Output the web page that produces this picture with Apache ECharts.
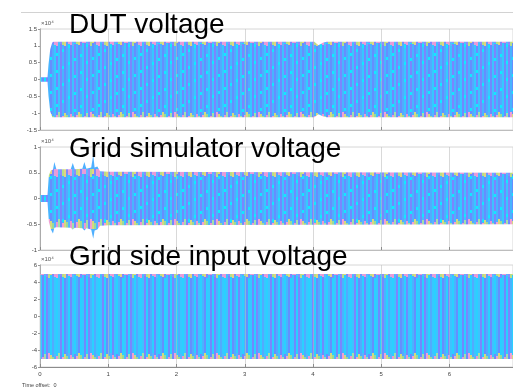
<!DOCTYPE html>
<html>
<head>
<meta charset="utf-8">
<script src="https://cdn.jsdelivr.net/npm/echarts@6/dist/echarts.min.js"></script>
<style>
  html, body { margin: 0; padding: 0; background: #ffffff; }
  #chart { width: 513px; height: 390px; }
</style>
</head>
<body>
<div id="chart"></div>
<script>
// Time axis (s) and tick labels
const timeTicks = [0, 1, 2, 3, 4, 5, 6];
const timeMax = 6.93;

// DUT voltage envelope (x10^4): knot times, upper and lower extremes
const dutTime  = [0,    0.11, 0.125, 0.15, 0.18,  0.2,   4.02,  4.08,  4.15, 4.2,   6.93];
const dutUpper = [0.07, 0.07, 0.45,  0.9,  1.1,   1.12,  1.12,  1.02,  1.1,  1.12,  1.12];
const dutLower = [-0.07,-0.07,-0.5,  -0.95,-1.12, -1.12, -1.12, -1.03, -1.1, -1.12, -1.12];
const dutTicks = [-1.5, -1, -0.5, 0, 0.5, 1, 1.5];

// Grid simulator voltage envelope (x10^4)
const simTime  = [0,    0.11, 0.13, 0.16, 0.19, 0.21, 0.24, 0.45, 0.48, 0.51, 0.62, 0.65, 0.68, 0.75, 0.78, 0.8,  0.84, 0.88, 1.0,  6.93];
const simUpper = [0.07, 0.07, 0.45, 0.55, 0.56, 0.71, 0.57, 0.57, 0.69, 0.57, 0.58, 0.71, 0.58, 0.6,  0.85, 0.6,  0.62, 0.53, 0.52, 0.5];
const simLower = [-0.07,-0.07,-0.45,-0.6, -0.68,-0.57,-0.56,-0.57,-0.6, -0.57,-0.58,-0.62,-0.58,-0.6, -0.78,-0.62,-0.6, -0.53,-0.52,-0.5];
const simTicks = [-1, -0.5, 0, 0.5, 1];

// Grid side input voltage envelope (x10^4)
const inTime  = [0,    6.93];
const inUpper = [4.95, 4.95];
const inLower = [-5.05, -5.05];
const inTicks = [-6, -4, -2, 0, 2, 4, 6];

const panels = [
  { title: 'DUT voltage',             time: dutTime, upper: dutUpper, lower: dutLower, ticks: dutTicks, top: 29,  height: 101, kind: 1 },
  { title: 'Grid simulator voltage',  time: simTime, upper: simUpper, lower: simLower, ticks: simTicks, top: 147, height: 103, kind: 2 },
  { title: 'Grid side input voltage', time: inTime,  upper: inUpper,  lower: inLower,  ticks: inTicks,  top: 265, height: 102, kind: 3 }
];

const FONT = 'Liberation Sans, Arial, sans-serif';
const chart = echarts.init(document.getElementById('chart'), null, { renderer: 'canvas' });

let bandFill = '#4fb0ff';

// Texture of the dense three-phase traces: thin vertical stripes, tinted crests
function buildTexture(bands) {
  const W = 42, H = 390;
  const cv = document.createElement('canvas');
  cv.width = W; cv.height = H;
  const ctx = cv.getContext('2d');
  ctx.fillStyle = '#4fb0ff';
  ctx.fillRect(0, 0, W, H);
  const base = ['#6f8aff', '#48b4ff', '#36c8ff', '#7a86ff', '#52aaff', '#3ec2ff', '#648fff'];
  const topTint = ['#ee98d6', '#7f88ff', '#b8de88', '#5cb8ff', '#e0a0dc', '#e2d480', '#8c8cff'];
  const botTint = ['#98dc98', '#ec96d2', '#6c8cff', '#d6d87e', '#56b4ff', '#a2e0a8', '#f0a0d4'];
  bands.forEach(b => {
    for (let x = 0; x < W; x++) {
      const s = Math.floor(x / 2);
      const cBase = base[(s * 5) % base.length];
      const tTop = topTint[(s * 3) % topTint.length];
      const dTopMax = 1 + (s * 5) % 4;
      const tBot = botTint[(s * 4 + 1) % botTint.length];
      const dBotMax = 2 + (s * 3) % 5;
      for (let y = Math.floor(b.top) - 3; y <= Math.ceil(b.bottom) + 3; y++) {
        const dTop = y - b.top;
        const dBot = b.bottom - y;
        let c = cBase;
        if (b.kind === 3 && s % 3 === 1) c = '#2ad0ff';
        if (b.kind !== 3 && s % 3 === 1 && ((y + s * 7) % 17) < 3) c = '#12e8ff';
        if (dTop < dTopMax) c = tTop;
        if (dBot < dBotMax) c = tBot;
        ctx.fillStyle = c;
        ctx.fillRect(x, y, 1, 1);
      }
    }
  });
  return cv;
}

function bandRenderer(p) {
  return function (params, api) {
    if (params.dataIndex !== 0) return null;
    const pts = [];
    for (let i = 0; i < p.time.length; i++) pts.push(api.coord([p.time[i], p.upper[i]]));
    for (let i = p.time.length - 1; i >= 0; i--) pts.push(api.coord([p.time[i], p.lower[i]]));
    return {
      type: 'polygon',
      shape: { points: pts },
      style: { fill: bandFill, stroke: null },
      silent: true
    };
  };
}

function buildOption() {
  const grid = [], xAxis = [], yAxis = [], series = [], graphic = [];
  panels.forEach((p, i) => {
    grid.push({ left: 40, right: -5, top: p.top, height: p.height, show: true, borderColor: '#d6d6d6', borderWidth: 1, backgroundColor: 'transparent' });
    xAxis.push({
      type: 'value', gridIndex: i, min: timeTicks[0], max: timeMax, interval: 1, z: 3,
      axisLine: { show: true, onZero: false, lineStyle: { color: i === 2 ? '#8c8c8c' : '#bdbdbd', width: 1 } },
      axisTick: { show: true, inside: true, length: 3, lineStyle: { color: '#8c8c8c' } },
      axisLabel: { show: i === 2, fontSize: 6, color: '#444', fontFamily: FONT, margin: 4, showMaxLabel: false },
      splitLine: { show: true, lineStyle: { color: 'rgba(185,185,185,0.55)', width: 1 } }
    });
    yAxis.push({
      type: 'value', gridIndex: i, min: p.ticks[0], max: p.ticks[p.ticks.length - 1],
      interval: p.ticks[1] - p.ticks[0],
      axisLine: { show: true, lineStyle: { color: '#9a9a9a', width: 1 } },
      axisTick: { show: true, inside: false, length: 2, lineStyle: { color: '#9a9a9a' } },
      axisLabel: { fontSize: 6, color: '#444', fontFamily: FONT, margin: 3 },
      splitLine: { show: false }
    });
    series.push({
      type: 'custom', xAxisIndex: i, yAxisIndex: i, coordinateSystem: 'cartesian2d',
      data: p.time.map((t, k) => [t, p.upper[k], p.lower[k]]),
      encode: { x: 0, y: [1, 2] },
      renderItem: bandRenderer(p),
      clip: true, silent: true, z: 2
    });
    graphic.push({
      type: 'text', left: 41, top: p.top - 9,
      style: { text: '×10⁴', font: '6px ' + FONT, fill: '#555' }, z: 10
    });
  });

  const titleY = [25, 149.5, 257.5];
  panels.forEach((p, i) => {
    graphic.push({
      type: 'text', x: 69, y: titleY[i],
      style: { text: p.title, font: '28px ' + FONT, fill: '#000', verticalAlign: 'middle' }, z: 20
    });
  });
  graphic.push({ type: 'line', shape: { x1: 21, y1: 12.5, x2: 513, y2: 12.5 }, style: { stroke: '#d2d2d2', lineWidth: 1 }, z: 1 });
  graphic.push({ type: 'text', x: 22, y: 385, style: { text: 'Time offset:  0', font: '5.5px ' + FONT, fill: '#444', verticalAlign: 'middle' }, z: 10 });

  return { animation: false, backgroundColor: '#ffffff', grid, xAxis, yAxis, series, graphic };
}

chart.setOption(buildOption());

// Locate each band's crest rows on screen, then lay the texture over them
const bands = panels.map((p, i) => {
  const n = p.time.length - 1;
  const top = chart.convertToPixel({ gridIndex: i }, [p.time[n], p.upper[n]])[1];
  const bottom = chart.convertToPixel({ gridIndex: i }, [p.time[n], p.lower[n]])[1];
  return { top, bottom, kind: p.kind };
});
bandFill = { image: buildTexture(bands), repeat: 'repeat' };
chart.setOption(buildOption(), true);
</script>
</body>
</html>
